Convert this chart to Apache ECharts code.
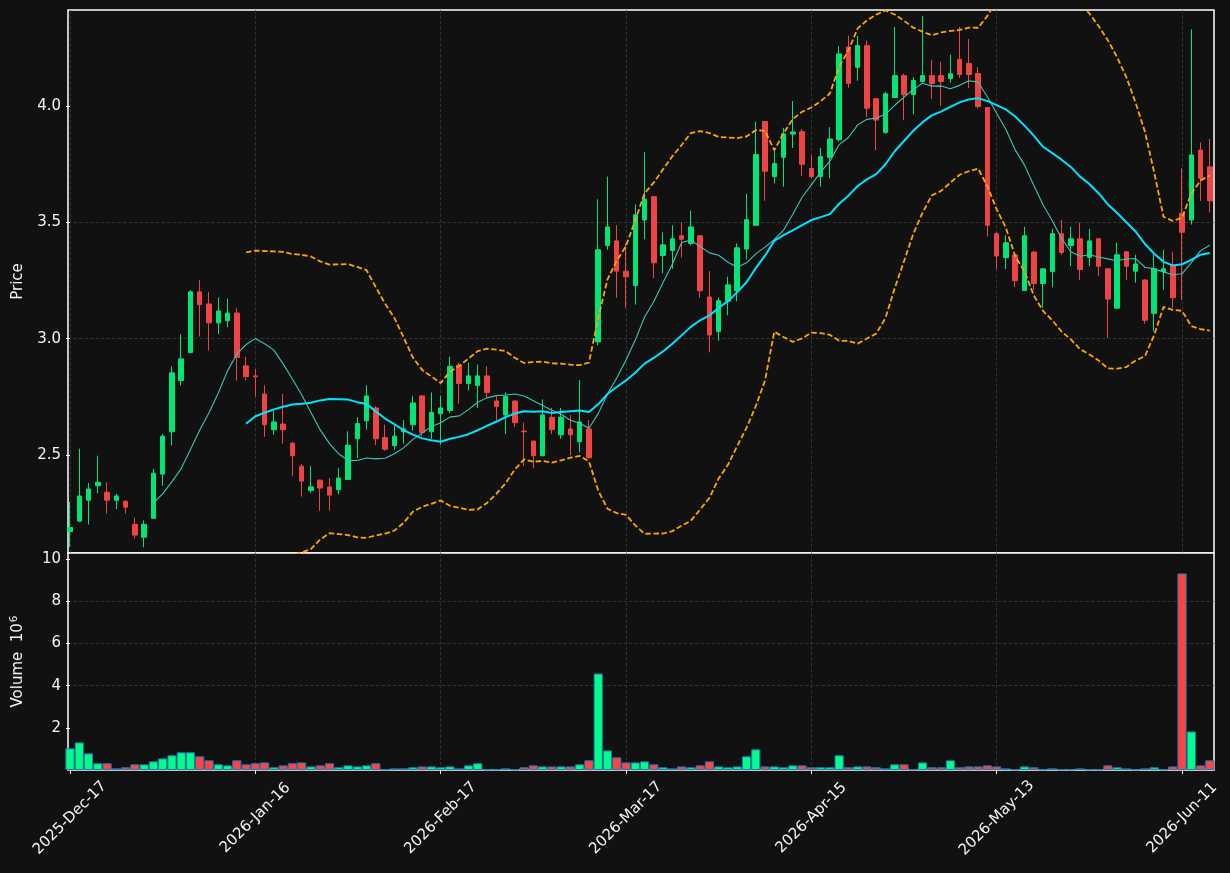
<!DOCTYPE html>
<html>
<head>
<meta charset="utf-8">
<title>Price and volume</title>
<script src="https://cdn.jsdelivr.net/npm/echarts@6/dist/echarts.min.js"></script>
<style>
  html, body { margin: 0; padding: 0; background: #111111; }
  #chart { width: 1230px; height: 873px; }
</style>
</head>
<body>
<div id="chart"></div>
<script>
// trading days (x categories)
const dates = [
  '2025-Dec-17', '2025-Dec-18', '2025-Dec-19', '2025-Dec-22', '2025-Dec-23', '2025-Dec-24', '2025-Dec-26', '2025-Dec-29', '2025-Dec-30', '2025-Dec-31',
  '2026-Jan-02', '2026-Jan-05', '2026-Jan-06', '2026-Jan-07', '2026-Jan-08', '2026-Jan-09', '2026-Jan-12', '2026-Jan-13', '2026-Jan-14', '2026-Jan-15',
  '2026-Jan-16', '2026-Jan-20', '2026-Jan-21', '2026-Jan-22', '2026-Jan-23', '2026-Jan-26', '2026-Jan-27', '2026-Jan-28', '2026-Jan-29', '2026-Jan-30',
  '2026-Feb-02', '2026-Feb-03', '2026-Feb-04', '2026-Feb-05', '2026-Feb-06', '2026-Feb-09', '2026-Feb-10', '2026-Feb-11', '2026-Feb-12', '2026-Feb-13',
  '2026-Feb-17', '2026-Feb-18', '2026-Feb-19', '2026-Feb-20', '2026-Feb-23', '2026-Feb-24', '2026-Feb-25', '2026-Feb-26', '2026-Feb-27',
  '2026-Mar-02', '2026-Mar-03', '2026-Mar-04', '2026-Mar-05', '2026-Mar-06', '2026-Mar-09', '2026-Mar-10', '2026-Mar-11', '2026-Mar-12', '2026-Mar-13',
  '2026-Mar-16', '2026-Mar-17', '2026-Mar-18', '2026-Mar-19', '2026-Mar-20', '2026-Mar-23', '2026-Mar-24', '2026-Mar-25', '2026-Mar-26', '2026-Mar-27',
  '2026-Mar-30', '2026-Mar-31',
  '2026-Apr-01', '2026-Apr-02', '2026-Apr-06', '2026-Apr-07', '2026-Apr-08', '2026-Apr-09', '2026-Apr-10', '2026-Apr-13', '2026-Apr-14', '2026-Apr-15',
  '2026-Apr-16', '2026-Apr-17', '2026-Apr-20', '2026-Apr-21', '2026-Apr-22', '2026-Apr-23', '2026-Apr-24', '2026-Apr-27', '2026-Apr-28', '2026-Apr-29',
  '2026-Apr-30',
  '2026-May-01', '2026-May-04', '2026-May-05', '2026-May-06', '2026-May-07', '2026-May-08', '2026-May-11', '2026-May-12', '2026-May-13', '2026-May-14',
  '2026-May-15', '2026-May-18', '2026-May-19', '2026-May-20', '2026-May-21', '2026-May-22', '2026-May-26', '2026-May-27', '2026-May-28', '2026-May-29',
  '2026-Jun-01', '2026-Jun-02', '2026-Jun-03', '2026-Jun-04', '2026-Jun-05', '2026-Jun-08', '2026-Jun-09', '2026-Jun-10', '2026-Jun-11', '2026-Jun-12',
  '2026-Jun-15', '2026-Jun-16'
];

const opens = [
  2.171, 2.216, 2.306, 2.368, 2.340, 2.306, 2.301, 2.202, 2.147, 2.228,
  2.418, 2.600, 2.820, 2.940, 3.201, 3.149, 3.068, 3.077, 3.110, 2.883,
  2.840, 2.762, 2.609, 2.633, 2.551, 2.452, 2.348, 2.392, 2.363, 2.351,
  2.395, 2.570, 2.647, 2.702, 2.575, 2.540, 2.600, 2.630, 2.754, 2.600,
  2.677, 2.691, 2.886, 2.807, 2.799, 2.840, 2.732, 2.672, 2.732, 2.603,
  2.560, 2.497, 2.662, 2.587, 2.612, 2.557, 2.612, 2.986, 3.400, 3.420,
  3.290, 3.228, 3.510, 3.610, 3.357, 3.379, 3.442, 3.409, 3.442, 3.179,
  3.031, 3.161, 3.206, 3.385, 3.487, 3.933, 3.696, 3.779, 3.879, 3.889,
  3.731, 3.696, 3.779, 3.855, 4.253, 4.166, 4.259, 4.031, 3.886, 4.036,
  4.130, 4.049, 4.105, 4.130, 4.130, 4.118, 4.200, 4.182, 4.139, 3.993,
  3.451, 3.348, 3.360, 3.207, 3.372, 3.237, 3.288, 3.451, 3.400, 3.429,
  3.349, 3.429, 3.300, 3.131, 3.373, 3.290, 3.252, 3.109, 3.288, 3.315,
  3.539, 3.510, 3.810, 3.738
];
const highs = [
  2.298, 2.527, 2.380, 2.497, 2.383, 2.333, 2.305, 2.231, 2.219, 2.440,
  2.590, 2.881, 3.019, 3.209, 3.251, 3.200, 3.177, 3.172, 3.131, 2.922,
  2.869, 2.799, 2.691, 2.762, 2.555, 2.461, 2.452, 2.395, 2.401, 2.443,
  2.602, 2.662, 2.799, 2.710, 2.630, 2.627, 2.650, 2.754, 2.757, 2.769,
  2.754, 2.922, 2.896, 2.896, 2.889, 2.881, 2.751, 2.769, 2.735, 2.639,
  2.562, 2.739, 2.702, 2.702, 2.672, 2.822, 2.650, 3.599, 3.696, 3.487,
  3.409, 3.577, 3.801, 3.612, 3.457, 3.487, 3.499, 3.550, 3.445, 3.290,
  3.176, 3.266, 3.409, 3.622, 3.933, 3.935, 3.809, 3.906, 4.021, 3.901,
  3.789, 3.819, 3.909, 4.257, 4.302, 4.301, 4.280, 4.035, 4.060, 4.339,
  4.138, 4.123, 4.387, 4.197, 4.190, 4.220, 4.339, 4.287, 4.167, 3.995,
  3.457, 3.445, 3.362, 3.480, 3.375, 3.302, 3.472, 3.510, 3.480, 3.499,
  3.472, 3.431, 3.302, 3.412, 3.375, 3.360, 3.255, 3.360, 3.382, 3.372,
  3.732, 4.329, 3.843, 3.858
];
const lows = [
  2.104, 2.212, 2.201, 2.336, 2.249, 2.268, 2.249, 2.141, 2.104, 2.225,
  2.368, 2.542, 2.799, 2.938, 3.009, 2.949, 3.019, 3.049, 2.820, 2.820,
  2.751, 2.578, 2.587, 2.549, 2.410, 2.321, 2.339, 2.261, 2.261, 2.331,
  2.392, 2.488, 2.609, 2.542, 2.518, 2.523, 2.549, 2.605, 2.582, 2.570,
  2.545, 2.680, 2.721, 2.777, 2.702, 2.747, 2.650, 2.590, 2.620, 2.452,
  2.443, 2.495, 2.590, 2.570, 2.500, 2.512, 2.485, 2.971, 3.382, 3.176,
  3.133, 3.146, 3.427, 3.260, 3.281, 3.300, 3.349, 3.400, 3.176, 2.941,
  2.991, 3.101, 3.161, 3.341, 3.485, 3.592, 3.667, 3.652, 3.819, 3.699,
  3.689, 3.652, 3.689, 3.846, 4.078, 4.108, 3.951, 3.809, 3.880, 4.033,
  3.939, 3.963, 4.100, 4.030, 4.000, 4.100, 4.120, 4.076, 3.988, 3.439,
  3.300, 3.299, 3.221, 3.205, 3.210, 3.133, 3.221, 3.360, 3.312, 3.252,
  3.312, 3.269, 3.004, 3.129, 3.252, 3.240, 3.064, 3.031, 3.210, 3.133,
  3.166, 3.490, 3.592, 3.542
];
const closes = [
  2.189, 2.324, 2.354, 2.383, 2.306, 2.324, 2.276, 2.156, 2.202, 2.422,
  2.581, 2.853, 2.913, 3.201, 3.146, 3.068, 3.119, 3.110, 2.919, 2.837,
  2.836, 2.630, 2.642, 2.609, 2.497, 2.388, 2.363, 2.358, 2.328, 2.401,
  2.542, 2.635, 2.754, 2.570, 2.525, 2.581, 2.612, 2.724, 2.597, 2.683,
  2.702, 2.881, 2.807, 2.840, 2.840, 2.769, 2.709, 2.751, 2.639, 2.600,
  2.497, 2.672, 2.609, 2.662, 2.587, 2.642, 2.488, 3.382, 3.480, 3.290,
  3.266, 3.532, 3.599, 3.326, 3.403, 3.429, 3.427, 3.480, 3.206, 3.016,
  3.163, 3.231, 3.390, 3.511, 3.791, 3.719, 3.752, 3.880, 3.888, 3.749,
  3.696, 3.782, 3.858, 4.223, 4.097, 4.259, 3.990, 3.939, 4.052, 4.130,
  4.048, 4.109, 4.130, 4.096, 4.105, 4.138, 4.135, 4.135, 3.997, 3.487,
  3.355, 3.412, 3.249, 3.442, 3.237, 3.300, 3.451, 3.370, 3.429, 3.297,
  3.420, 3.311, 3.170, 3.360, 3.311, 3.321, 3.079, 3.300, 3.300, 3.176,
  3.457, 3.789, 3.689, 3.592
];
// volume in millions of shares
const volumes = [
  1.03, 1.31, 0.79, 0.32, 0.32, 0.08, 0.13, 0.27, 0.27, 0.41,
  0.55, 0.70, 0.84, 0.84, 0.65, 0.46, 0.27, 0.22, 0.46, 0.27,
  0.32, 0.36, 0.13, 0.22, 0.32, 0.36, 0.17, 0.22, 0.32, 0.13,
  0.22, 0.17, 0.22, 0.32, 0.03, 0.08, 0.08, 0.13, 0.17, 0.17,
  0.13, 0.17, 0.08, 0.22, 0.32, 0.03, 0.03, 0.08, 0.03, 0.13,
  0.22, 0.17, 0.17, 0.17, 0.17, 0.27, 0.46, 4.58, 0.93, 0.60,
  0.36, 0.36, 0.41, 0.27, 0.13, 0.08, 0.17, 0.13, 0.22, 0.41,
  0.17, 0.13, 0.17, 0.65, 0.98, 0.17, 0.17, 0.13, 0.22, 0.22,
  0.13, 0.13, 0.13, 0.70, 0.13, 0.17, 0.17, 0.13, 0.08, 0.27,
  0.27, 0.03, 0.36, 0.13, 0.13, 0.46, 0.13, 0.17, 0.17, 0.22,
  0.17, 0.08, 0.03, 0.17, 0.13, 0.03, 0.08, 0.03, 0.03, 0.08,
  0.03, 0.03, 0.22, 0.13, 0.08, 0.03, 0.08, 0.13, 0.03, 0.17,
  9.33, 1.83, 0.22, 0.46
];

const priceTicks = [2.5, 3.0, 3.5, 4.0];
const volumeTicks = [2, 4, 6, 8, 10];
const dateTicks = [0, 20, 40, 60, 80, 100, 120];

/**
 * indicators
 */
const sma = (arr, n) => arr.map((_, i) => {
    if (i < n - 1) return null;
    let s = 0;
    for (let k = i - n + 1; k <= i; k++) s += arr[k];
    return s / n;
});
const rollingStd = (arr, n) => arr.map((_, i) => {
    if (i < n - 1) return null;
    const win = arr.slice(i - n + 1, i + 1);
    const m = win.reduce((a, b) => a + b, 0) / n;
    return Math.sqrt(win.reduce((a, b) => a + (b - m) * (b - m), 0) / n);
});
const ma10 = sma(closes, 10);
const ma20 = sma(closes, 20);
const sd20 = rollingStd(closes, 20);
const bbUpper = ma20.map((m, i) => (m === null ? null : m + 2 * sd20[i]));
const bbLower = ma20.map((m, i) => (m === null ? null : m - 2 * sd20[i]));

const toXY = arr => arr.map((v, i) => [i, v === null ? '-' : v]);

const UP = '#00e676';
const DOWN = '#ef4444';
const VOL_UP = '#00ff88';
const VOL_DOWN = '#ff4444';
const TEXT = '#f4f4f4';
const GRID_LINE = { show: true, showMinLine: false, showMaxLine: false, lineStyle: { color: '#3a3a3a', width: 0.8, type: [3.5, 2] } };
const FONT = 'DejaVu Sans';
const FS = 15;

const xMin = -0.216;
const xMax = 123.45;

const option = {
    backgroundColor: '#111111',
    animation: false,
    textStyle: { fontFamily: FONT },
    grid: [
        { left: 68, top: 10, width: 1146, height: 543, show: true, backgroundColor: '#111111', borderColor: '#ffffff', borderWidth: 1.5 },
        { left: 68, top: 553, width: 1146, height: 217, show: true, backgroundColor: '#111111', borderColor: '#ffffff', borderWidth: 1.5 },
    ],
    xAxis: [
        {
            type: 'value', gridIndex: 0, min: xMin, max: xMax,
            axisLine: { show: false },
            axisTick: { show: false },
            axisLabel: { show: false },
            splitLine: GRID_LINE,
        },
        {
            type: 'value', gridIndex: 1, min: xMin, max: xMax,
            axisLine: { show: false },
            axisTick: { show: true, length: 4, lineStyle: { color: '#ffffff' }, customValues: dateTicks },
            axisLabel: {
                customValues: dateTicks,
                formatter: v => dates[Math.round(v)] || '',
                rotate: 45,
                align: 'center',
                verticalAlign: 'middle',
                margin: 48,
                color: TEXT,
                fontSize: FS,
                fontFamily: FONT,
            },
            splitLine: GRID_LINE,
        },
    ],
    yAxis: [
        {
            type: 'value', gridIndex: 0, min: 2.079, max: 4.412, scale: true,
            name: 'Price', nameLocation: 'middle', nameGap: 42,
            nameTextStyle: { color: TEXT, fontSize: FS, fontFamily: FONT },
            axisLine: { show: false },
            axisTick: { show: true, length: 4, lineStyle: { color: '#ffffff' }, customValues: priceTicks },
            axisLabel: { customValues: priceTicks, formatter: v => v.toFixed(1), color: TEXT, fontSize: FS, fontFamily: FONT, margin: 7 },
            splitLine: GRID_LINE,
        },
        {
            type: 'value', gridIndex: 1, min: 0, max: 10.3,
            name: '{a|Volume  10}{s|6}', nameLocation: 'middle', nameGap: 40,
            nameTextStyle: {
                color: TEXT, fontSize: FS, fontFamily: FONT,
                rich: {
                    a: { color: TEXT, fontSize: FS, fontFamily: FONT },
                    s: { color: TEXT, fontSize: 10.5, fontFamily: FONT, verticalAlign: 'top', padding: [0, 0, 8, 1] },
                },
            },
            axisLine: { show: false },
            axisTick: { show: true, length: 4, lineStyle: { color: '#ffffff' }, customValues: volumeTicks },
            axisLabel: { customValues: volumeTicks, color: TEXT, fontSize: FS, fontFamily: FONT, margin: 7 },
            splitLine: GRID_LINE,
        },
    ],
    series: [
        {
            name: 'OHLC',
            type: 'candlestick',
            xAxisIndex: 0, yAxisIndex: 0,
            barWidth: 5,
            encode: { x: 0, y: [1, 2, 3, 4] },
            data: dates.map((d, i) => [i, opens[i], closes[i], lows[i], highs[i]]),
            itemStyle: { color: UP, color0: DOWN, borderColor: UP, borderColor0: DOWN, borderWidth: 1 },
            z: 3,
        },
        {
            name: 'MA10', type: 'line', xAxisIndex: 0, yAxisIndex: 0,
            data: toXY(ma10), showSymbol: false, symbol: 'none',
            lineStyle: { color: '#3fc4b6', width: 1.1 }, z: 4,
        },
        {
            name: 'MA20', type: 'line', xAxisIndex: 0, yAxisIndex: 0,
            data: toXY(ma20), showSymbol: false, symbol: 'none',
            lineStyle: { color: '#00e5ff', width: 2 }, z: 4,
        },
        {
            name: 'BB upper', type: 'line', xAxisIndex: 0, yAxisIndex: 0,
            data: toXY(bbUpper), showSymbol: false, symbol: 'none',
            lineStyle: { color: '#ffa500', width: 1.8, type: [5.5, 2.6] }, z: 4,
        },
        {
            name: 'BB lower', type: 'line', xAxisIndex: 0, yAxisIndex: 0,
            data: toXY(bbLower), showSymbol: false, symbol: 'none',
            lineStyle: { color: '#ffa500', width: 1.8, type: [5.5, 2.6] }, z: 4,
        },
        {
            name: 'Volume', type: 'bar', xAxisIndex: 1, yAxisIndex: 1,
            barWidth: 9.2,
            clip: true,
            data: volumes.map((v, i) => ({
                value: [i, v],
                itemStyle: { color: closes[i] >= opens[i] ? VOL_UP : VOL_DOWN },
            })),
            itemStyle: { borderColor: '#1f77b4', borderWidth: 1 },
        },
    ],
};

const chart = echarts.init(document.getElementById('chart'));
chart.setOption(option);
window.addEventListener('resize', () => chart.resize());
</script>
</body>
</html>
